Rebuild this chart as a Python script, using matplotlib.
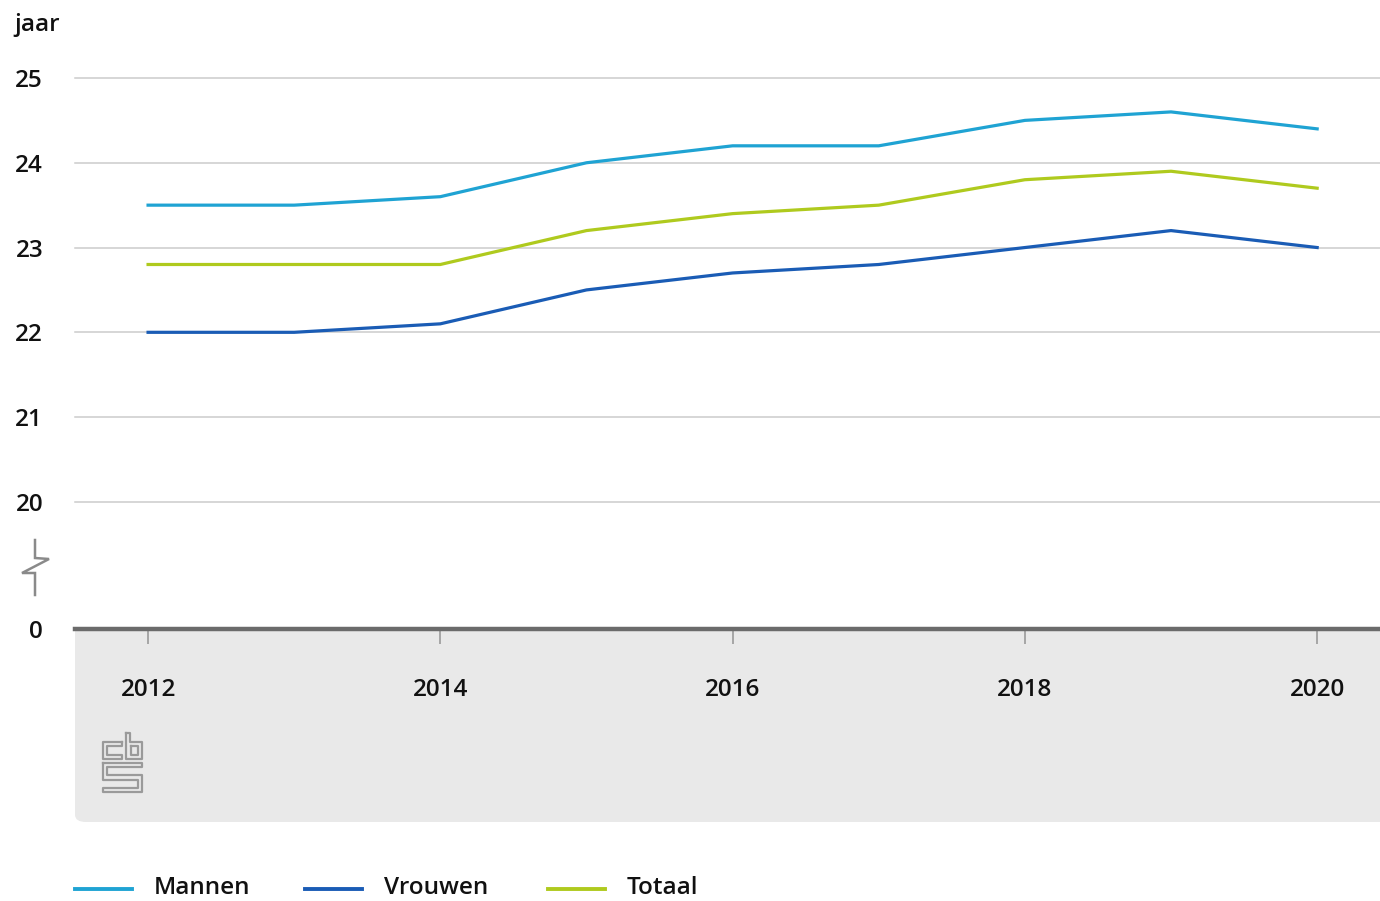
import matplotlib
matplotlib.use("Agg")
import matplotlib.pyplot as plt
from matplotlib.lines import Line2D
from matplotlib.patches import FancyBboxPatch

# data
years = [2012, 2013, 2014, 2015, 2016, 2017, 2018, 2019, 2020]
mannen = [23.5, 23.5, 23.6, 24.0, 24.2, 24.2, 24.5, 24.6, 24.4]
vrouwen = [22.0, 22.0, 22.1, 22.5, 22.7, 22.8, 23.0, 23.2, 23.0]
totaal = [22.8, 22.8, 22.8, 23.2, 23.4, 23.5, 23.8, 23.9, 23.7]
series_names = ["Mannen", "Vrouwen", "Totaal"]
series_colors = ["#1fa3d3", "#1a5cb5", "#afca1e"]

x_ticks = [2012, 2014, 2016, 2018, 2020]
y_ticks = [20, 21, 22, 23, 24, 25]
y_zero = 18.5  # where the "0" baseline sits after the axis break

W, H = 1380, 901
plt.rcParams['font.family'] = ['Open Sans', 'DejaVu Sans']
plt.rcParams['font.weight'] = 'semibold'
FS = 17.5


def fx(px):
    return px / W


def fy(py):
    return 1 - py / H


fig = plt.figure(figsize=(W / 100, H / 100), dpi=100)
fig.patch.set_facecolor("white")

# grey footer panel behind the x labels
panel = FancyBboxPatch((fx(75) + 0.008, fy(822) + 0.008), 1.1, fy(600) - fy(822) - 0.012,
                       boxstyle="round,pad=0.008,rounding_size=0.008",
                       transform=fig.transFigure, facecolor="#e9e9e9",
                       edgecolor="none", zorder=-5)
fig.patches.append(panel)

ax = fig.add_axes([fx(75), fy(629), 1 - fx(75), fy(78) - fy(629)])
ax.set_facecolor("white")
ax.set_zorder(1)

for vals, name, col in zip([mannen, vrouwen, totaal], series_names, series_colors):
    ax.plot(years, vals, color=col, lw=2.3, label=name, solid_joinstyle="round")

for y in y_ticks:
    ax.axhline(y, color="#cccccc", lw=1.1, zorder=0, clip_on=False)

ax.set_xlim(2011.5, 2020.43)
ax.set_ylim(y_zero, 25)

for s in ["top", "right", "left"]:
    ax.spines[s].set_visible(False)
ax.spines["bottom"].set_color("#6b6b6b")
ax.spines["bottom"].set_linewidth(3.2)
ax.spines["bottom"].set_position(("data", y_zero))

ax.set_xticks(x_ticks)
ax.set_xticklabels([str(x) for x in x_ticks])
ax.tick_params(axis="x", direction="out", length=11, width=1.3, color="#a0a0a0",
               pad=24.5, labelsize=FS, labelcolor="#111111")
ax.set_yticks([y_zero] + y_ticks)
ax.set_yticklabels(["0"] + [str(y) for y in y_ticks])
ax.tick_params(axis="y", length=0, pad=23, labelsize=FS, labelcolor="#111111")

fig.text(fx(14), fy(25), "jaar", fontsize=FS, color="#111111", va="center", ha="left")

# axis break symbol
bx = [35, 35, 49, 22, 35, 35]
by = [540, 558, 559, 573, 573, 595]
fig.add_artist(Line2D([fx(v) for v in bx], [fy(v) for v in by], color="#8a8a8a",
                      lw=1.8, transform=fig.transFigure, solid_joinstyle="miter"))

# cbs logo (simplified outline)
logo_paths = [
    [(122, 742), (103, 742), (103, 759), (122, 759), (122, 755), (107, 755), (107, 746), (122, 746), (122, 742)],
    [(126, 733), (130, 733), (130, 742), (142, 742), (142, 759), (126, 759), (126, 733)],
    [(131, 746), (138, 746), (138, 755), (131, 755), (131, 746)],
    [(103, 763), (142, 763), (142, 767), (107, 767), (107, 775), (142, 775), (142, 792),
     (103, 792), (103, 788), (138, 788), (138, 780), (103, 780), (103, 763)],
]
for p in logo_paths:
    fig.add_artist(Line2D([fx(a) for a, b in p], [fy(b) for a, b in p], color="#9a9a9a",
                          lw=1.6, transform=fig.transFigure))

# legend
leg_x = [75, 305, 548]
for x0, name, col in zip(leg_x, series_names, series_colors):
    fig.add_artist(Line2D([fx(x0), fx(x0 + 57)], [fy(889), fy(889)], color=col, lw=2.8,
                          transform=fig.transFigure))
    fig.text(fx(x0 + 79), fy(888), name, fontsize=FS, color="#111111", va="center", ha="left")

fig.savefig("out.png", dpi=100)
